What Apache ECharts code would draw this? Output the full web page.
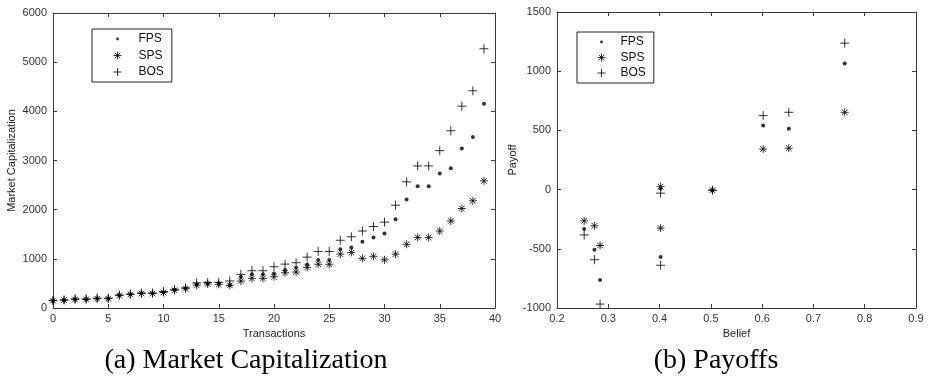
<!DOCTYPE html>
<html><head><meta charset="utf-8">
<script src="https://cdn.jsdelivr.net/npm/echarts@6/dist/echarts.min.js"></script>
<style>html,body{margin:0;padding:0;background:#fff}#c{width:928px;height:378px}</style>
</head><body><div id="c"></div>
<script>
// ---- Panel (a): Market Capitalization ----
const transactions = [0,1,2,3,4,5,6,7,8,9,10,11,12,13,14,15,16,17,18,19,20,21,22,23,24,25,26,27,28,29,30,31,32,33,34,35,36,37,38,39];
const capFPS = [150,160,180,180,195,195,260,280,300,300,320,370,400,480,500,500,470,636,684,684,704,772,819,887,975,975,1195,1232,1347,1435,1516,1805,2206,2477,2477,2734,2840,3242,3478,4156];
const capSPS = [150,160,175,175,190,190,255,275,295,295,315,360,390,465,490,480,460,548,602,602,636,717,731,826,890,890,1096,1130,1010,1052,980,1096,1296,1435,1435,1565,1770,2024,2180,2585];
const capBOS = [155,165,185,185,200,200,265,285,305,305,335,380,410,510,520,520,550,684,758,758,839,893,921,1035,1150,1150,1378,1448,1566,1658,1746,2091,2565,2890,2890,3200,3605,4105,4418,5273];

// ---- Panel (b): Payoffs ----
const beliefs   = [0.253,0.273,0.284,0.402,0.402,0.503,0.602,0.652,0.761];
const payFPS    = [-333,-508,-764,10,-569,-5,542,514,1064];
const paySPS    = [-264,-306,-472,25,-325,-5,342,350,653];
const payBOS    = [-383,-592,-967,-30,-639,-5,625,653,1237];

const seriesNames = ['FPS','SPS','BOS'];
const captions = ['(a) Market Capitalization','(b) Payoffs'];
const axisNames = {capX:'Transactions', capY:'Market Capitalization', payX:'Belief', payY:'Payoff'};

const STAR = 'path://M0,4L8,4M4,0L4,8M1.2,1.2L6.8,6.8M1.2,6.8L6.8,1.2';
const PLUS = 'path://M0,5L10,5M5,0L5,10';
const ICON_DOT  = 'path://M0,0L0,0M10,10L10,10M3.6,5A1.4,1.4 0 1 0 6.4,5A1.4,1.4 0 1 0 3.6,5Z';
const ICON_STAR = 'path://M0,0L0,0M10,10L10,10M1,5L9,5M5,1L5,9M2.2,2.2L7.8,7.8M2.2,7.8L7.8,2.2';
const ICON_PLUS = 'path://M0,0L0,0M10,10L10,10M1,5L9,5M5,1L5,9';

const AX = '#3a3a3a';
const FONT = 'Liberation Sans';
function zip(xs, ys){ return xs.map((x,i)=>[x, ys[i]]); }
const plain = v => String(Math.round(v*1000)/1000);

function xAx(grid, min, max, interval, name, pos, show){
  return {
    type:'value', gridIndex:grid, min, max, interval, position:pos,
    name: show ? name : '', nameLocation:'middle', nameGap:26,
    nameTextStyle:{fontFamily:FONT, fontSize:11, color:'#222', verticalAlign:'middle'},
    axisLine:{show:true, onZero:false, lineStyle:{color:AX, width:1}},
    axisTick:{show:true, inside:true, length:4, lineStyle:{color:AX}},
    axisLabel:{show:show, margin:5, fontFamily:FONT, fontSize:11, color:'#333', formatter:plain},
    splitLine:{show:false}
  };
}
function yAx(grid, min, max, interval, name, pos, show, gap){
  return {
    type:'value', gridIndex:grid, min, max, interval, position:pos,
    name: show ? name : '', nameLocation:'middle', nameGap:gap, nameRotate:90,
    nameTextStyle:{fontFamily:FONT, fontSize:11, color:'#222', verticalAlign:'middle'},
    axisLine:{show:true, onZero:false, lineStyle:{color:AX, width:1}},
    axisTick:{show:true, inside:true, length:4, lineStyle:{color:AX}},
    axisLabel:{show:show, margin:6, fontFamily:FONT, fontSize:11, color:'#333', formatter:plain},
    splitLine:{show:false}
  };
}

const styleDot  = {symbol:'circle', symbolSize:4, itemStyle:{color:'#000'}};
const styleStar = {symbol:STAR, symbolSize:8, itemStyle:{color:'#000', borderColor:'#000', borderWidth:1}};
const stylePlus = {symbol:PLUS, symbolSize:9, itemStyle:{color:'#000', borderColor:'#000', borderWidth:1}};
const styles = [styleDot, styleStar, stylePlus];

function mkSeries(name, idx, xi, yi, data){
  return Object.assign({type:'scatter', name, xAxisIndex:xi, yAxisIndex:yi, data, silent:true, animation:false}, styles[idx]);
}

function legend(left, top, padL, textPadL, gap){
  return {
    orient:'vertical', left, top, padding:[3, 8, 3, padL], itemGap:gap,
    itemWidth:10, itemHeight:10, borderColor:'#222', borderWidth:1,
    textStyle:{fontFamily:FONT, fontSize:12, color:'#111', lineHeight:14, padding:[0,0,0,textPadL]},
    itemStyle:{color:'#000', borderColor:'#000', borderWidth:1},
    data:[
      {name:seriesNames[0], icon:ICON_DOT, itemStyle:{borderWidth:0}},
      {name:seriesNames[1], icon:ICON_STAR},
      {name:seriesNames[2], icon:ICON_PLUS}
    ]
  };
}

const capStyle = {fontFamily:'Liberation Serif', fontSize:28, fontWeight:'normal', color:'#000'};
const chart = echarts.init(document.getElementById('c'), null, {renderer:'canvas'});
const option = {
  animation:false,
  backgroundColor:'#fff',
  grid:[
    {left:53, top:13, width:442, height:295},
    {left:557, top:12, width:359, height:296}
  ],
  xAxis:[
    xAx(0, 0, 40, 5, axisNames.capX, 'bottom', true),
    xAx(0, 0, 40, 5, '', 'top', false),
    xAx(1, 0.2, 0.9, 0.1, axisNames.payX, 'bottom', true),
    xAx(1, 0.2, 0.9, 0.1, '', 'top', false)
  ],
  yAxis:[
    yAx(0, 0, 6000, 1000, axisNames.capY, 'left', true, 41),
    yAx(0, 0, 6000, 1000, '', 'right', false, 0),
    yAx(1, -1000, 1500, 500, axisNames.payY, 'left', true, 43),
    yAx(1, -1000, 1500, 500, '', 'right', false, 0)
  ],
  legend:[
    legend(92, 29, 20, 11, 2.5),
    legend(577, 32, 19, 9, 1.5)
  ],
  title:[
    {text:captions[0], left:246, top:361, padding:0, textAlign:'center', textVerticalAlign:'middle', textStyle:capStyle},
    {text:captions[1], left:716, top:361, padding:0, textAlign:'center', textVerticalAlign:'middle', textStyle:capStyle}
  ],
  series:[
    mkSeries('FPS', 0, 0, 0, zip(transactions, capFPS)),
    mkSeries('SPS', 1, 0, 0, zip(transactions, capSPS)),
    mkSeries('BOS', 2, 0, 0, zip(transactions, capBOS)),
    mkSeries('FPS', 0, 2, 2, zip(beliefs, payFPS)),
    mkSeries('SPS', 1, 2, 2, zip(beliefs, paySPS)),
    mkSeries('BOS', 2, 2, 2, zip(beliefs, payBOS))
  ]
};
chart.setOption(option);
</script>
</body></html>
